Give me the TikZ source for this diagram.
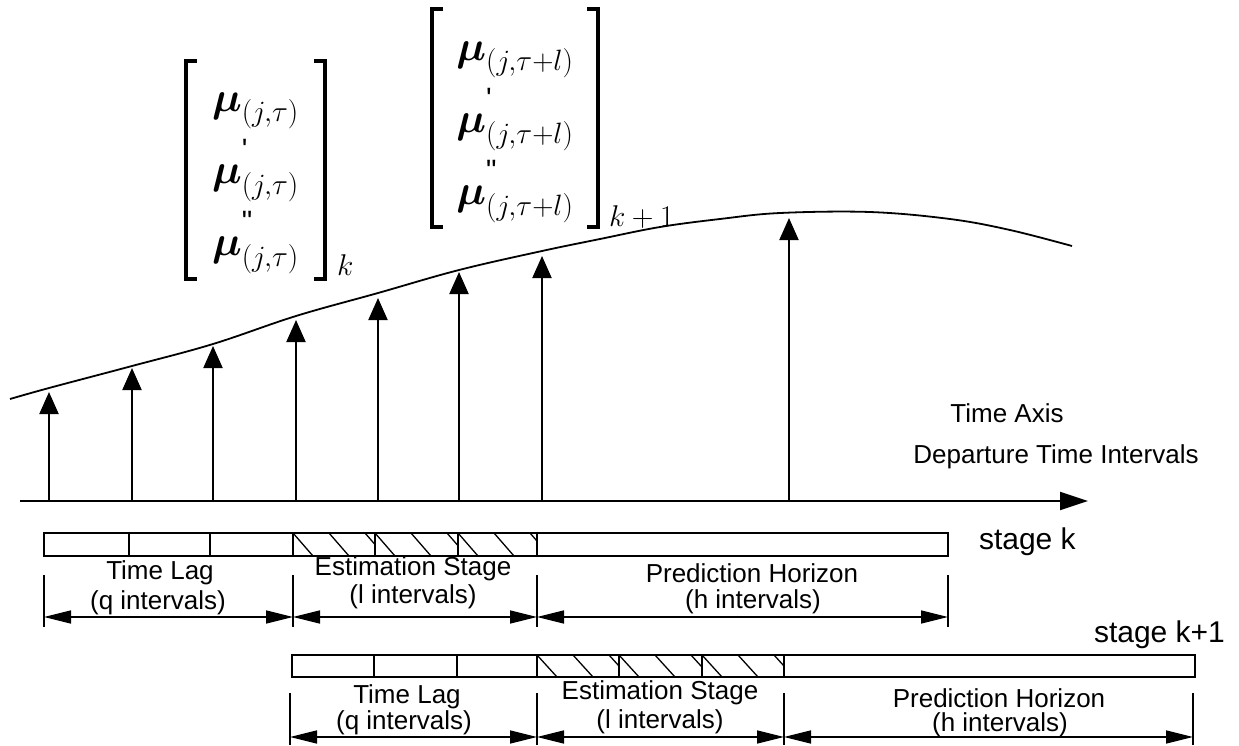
\documentclass[tikz,border=0pt]{standalone}
\usepackage{fix-cm}
\usepackage{amsmath}
\usepackage{fontspec}
\setmainfont{Liberation Sans}
\usetikzlibrary{arrows.meta}
\newcommand{\mub}{\boldsymbol{\mu}}
\newcommand{\onep}{\text{\raisebox{9pt}{\textquotesingle}}}
\newcommand{\twop}{\text{\raisebox{9pt}{\textquotedbl}}}
\tikzset{
  riser/.style={-{Triangle[length=22pt,width=19pt]},line width=2pt},
  dimline/.style={{Triangle[length=27pt,width=13pt]}-{Triangle[length=27pt,width=13pt]},line width=1.6pt},
  lbl/.style={font=\fontsize{26}{30}\selectfont,inner sep=0pt},
  stagelbl/.style={font=\fontsize{30}{34}\selectfont,inner sep=0pt,anchor=west},
  vec/.style={font=\fontsize{42}{48}\selectfont,inner sep=0pt},
  subk/.style={font=\fontsize{30}{34}\selectfont,inner sep=0pt,anchor=base west},
  brk/.style={line width=4pt},
  hatch/.style={line width=1.3pt}
}
\begin{document}
\begin{tikzpicture}[x=1pt,y=-1pt,line width=2pt]
\useasboundingbox (0,0) rectangle (1239,745);
\draw[line width=1.8pt] plot[smooth,tension=0.6] coordinates {(10,399) (49,388) (132,366) (213,344) (296,316) (378,293) (459,270) (542,251) (600,239) (660,227) (720,219) (780,213) (870,212) (950,219) (1010,230) (1072,246)};
\draw[-{Triangle[length=28pt,width=18pt]}] (20,501) -- (1088,501);
\foreach \x/\y in {49/392,132/368,213/346,296/320,378/298,459/272,542/256,789/218}
  \draw[riser] (\x,501) -- (\x,\y);
% estimate vectors
\node[vec,minimum width=137pt,minimum height=205pt] (muk) at (255.5,169.5) {\renewcommand{\arraystretch}{1.5}$\begin{array}{@{}l@{}}
  \mub_{(j,\tau)}\\ \mub^{\onep}_{(j,\tau)}\\ \mub^{\twop}_{(j,\tau)}
  \end{array}$};
\draw[brk] ([xshift=11pt]muk.north west) -| (muk.south west) -- ++(11,0);
\draw[brk] ([xshift=-11pt]muk.north east) -| (muk.south east) -- ++(-11,0);
\node[subk] (kmuk) at ([xshift=11pt,yshift=3pt]muk.south east) {$k$};
\node[vec,minimum width=164pt,minimum height=212pt] (mukk) at (515,118) {\renewcommand{\arraystretch}{1.5}$\begin{array}{@{}l@{}}
  \mub_{(j,\tau+l)}\\ \mub^{\onep}_{(j,\tau+l)}\\ \mub^{\twop}_{(j,\tau+l)}
  \end{array}$};
\draw[brk] ([xshift=11pt]mukk.north west) -| (mukk.south west) -- ++(11,0);
\draw[brk] ([xshift=-11pt]mukk.north east) -| (mukk.south east) -- ++(-11,0);
\node[subk] (kmukk) at ([xshift=10pt,yshift=1pt]mukk.south east) {$k+1$};
\node[lbl] (axis) at (1007,413) {Time Axis};
\node[lbl] (dep) at (1056,457) {Departure Time Intervals};
% stage k
\node[stagelbl] (sk) at (978,542) {stage k};
\draw (44,533) rectangle (948,556);
\foreach \x in {129,210,293,375,458,537} \draw (\x,533) -- (\x,556);
\foreach \x/\w in {293/82,375/83,458/79}{
  \begin{scope}
    \clip (\x,533) rectangle ++(\w,23);
    \foreach \d in {0,36,72} \draw[hatch] (\x+\d,533) -- ++(20,23);
  \end{scope}}
\foreach \x in {44,293,537,948} \draw (\x,575) -- (\x,627);
\draw[dimline] (44,617) -- (293,617);
\draw[dimline] (293,617) -- (537,617);
\draw[dimline] (537,617) -- (948,617);
\node[lbl] (lagk) at (160,573) {Time Lag};
\node[lbl] (lagnk) at (158,603) {(q intervals)};
\node[lbl] (estk) at (413,569) {Estimation Stage};
\node[lbl] (estnk) at (413,597) {(l intervals)};
\node[lbl] (prek) at (752,573) {Prediction Horizon};
\node[lbl] (prenk) at (753,602) {(h intervals)};
% stage k+1
\node[stagelbl] (skk) at (1093,635) {stage k+1};
\draw (292,655) rectangle (1195,677);
\foreach \x in {374,457,537,619,702,784} \draw (\x,655) -- (\x,677);
\foreach \x/\w in {537/82,619/83,702/82}{
  \begin{scope}
    \clip (\x,655) rectangle ++(\w,22);
    \foreach \d in {0,36,72} \draw[hatch] (\x+\d,655) -- ++(20,22);
  \end{scope}}
\foreach \x in {290,537,784,1193} \draw (\x,693) -- (\x,745);
\draw[dimline] (290,737) -- (537,737);
\draw[dimline] (537,737) -- (784,737);
\draw[dimline] (784,737) -- (1193,737);
\node[lbl] (lagkk) at (407,697) {Time Lag};
\node[lbl] (lagnkk) at (404,723) {(q intervals)};
\node[lbl] (estkk) at (660,693) {Estimation Stage};
\node[lbl] (estnkk) at (660,722) {(l intervals)};
\node[lbl] (prekk) at (999,698) {Prediction Horizon};
\node[lbl] (prenkk) at (1000,725) {(h intervals)};
\end{tikzpicture}
\end{document}
